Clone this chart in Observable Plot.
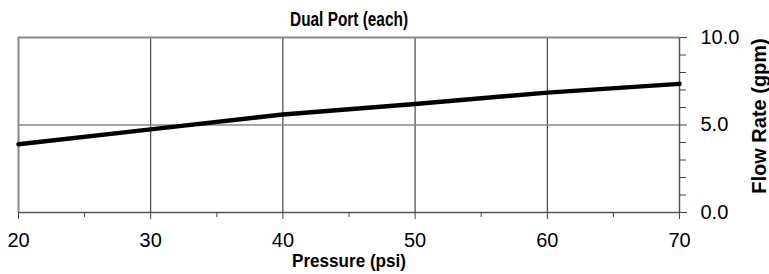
<!DOCTYPE html>
<html>
<head>
<meta charset="utf-8">
<script src="https://cdn.jsdelivr.net/npm/d3@7"></script>
<script src="https://cdn.jsdelivr.net/npm/@observablehq/plot@0.6"></script>
<style>
  html, body { margin: 0; padding: 0; background: #fff; }
  #chart svg { display: block; }
</style>
</head>
<body>
<div id="chart"></div>
<script>
// Data
const pressure = [20, 30, 40, 50, 60, 70];          // psi
const flowRate = [3.9, 4.75, 5.6, 6.2, 6.85, 7.35];  // gpm
const xMajorTicks = [20, 30, 40, 50, 60, 70];
const xMinorTicks = [25, 35, 45, 55, 65];
const yMajorTicks = [0, 5, 10];
const yMinorTicks = [1, 2, 3, 4, 6, 7, 8, 9];
const xGrid = [30, 40, 50, 60];
const yGrid = [5];
const titleText = "Dual Port (each)";
const xLabel = "Pressure (psi)";
const yLabel = "Flow Rate (gpm)";

const data = pressure.map((p, i) => ({pressure: p, flow: flowRate[i]}));

const chart = Plot.plot({
  width: 769,
  height: 274,
  marginLeft: 18,
  marginRight: 90,
  marginTop: 37,
  marginBottom: 62,
  style: {fontFamily: "'Liberation Sans', Arial, sans-serif", background: "#fff", overflow: "visible"},
  x: {domain: [20, 70]},
  y: {domain: [0, 10]},
  marks: [
    // grid
    Plot.ruleX(xGrid, {stroke: "#222", strokeWidth: 1}),
    Plot.ruleY(yGrid, {stroke: "#888", strokeWidth: 1.5}),
    // frame: top & left light grey
    Plot.ruleY([10], {stroke: "#888", strokeWidth: 2}),
    Plot.ruleX([20], {stroke: "#888", strokeWidth: 2}),
    // axes lines
    Plot.ruleY([0], {stroke: "#555", strokeWidth: 1.5}),
    Plot.ruleX([70], {stroke: "#555", strokeWidth: 1.5}),
    // x axis
    Plot.axisX(xMajorTicks, {anchor: "bottom", tickSize: 7, tickPadding: 13, fontSize: 20, stroke: "#444", fill: "#000", tickFormat: d => String(d), label: null}),
    Plot.axisX(xMinorTicks, {anchor: "bottom", tickSize: 5, tickFormat: () => "", stroke: "#444", label: null}),
    // y axis on right
    Plot.axisY(yMajorTicks, {anchor: "right", tickSize: 7, tickPadding: 14, fontSize: 20, stroke: "#444", fill: "#000", tickFormat: d => d.toFixed(1), label: null}),
    Plot.axisY(yMinorTicks, {anchor: "right", tickSize: 6, tickFormat: () => "", stroke: "#444", label: null}),
    // line
    Plot.line(data, {x: "pressure", y: "flow", stroke: "#000", strokeWidth: 4.5}),
    // title and labels
    Plot.text([titleText], {frameAnchor: "top", dy: -18, lineAnchor: "middle", textAnchor: "middle", fontSize: 20, fontWeight: "bold", fill: "#000"}),
    Plot.text([xLabel], {frameAnchor: "bottom", dy: 48, lineAnchor: "middle", textAnchor: "middle", fontSize: 19, fontWeight: "bold", fill: "#000"}),
    Plot.text([yLabel], {frameAnchor: "right", dx: 80, dy: -9, rotate: -90, lineAnchor: "middle", textAnchor: "middle", fontSize: 20, fontWeight: "bold", fill: "#000"})
  ]
});
// narrow the bold title and x label to match the condensed look of the reference
d3.select(chart).selectAll("text").each(function() {
  const t = this.textContent;
  if (t === titleText) { this.setAttribute("textLength", 118); this.setAttribute("lengthAdjust", "spacingAndGlyphs"); }
  if (t === xLabel) { this.setAttribute("textLength", 114); this.setAttribute("lengthAdjust", "spacingAndGlyphs"); }
});
document.getElementById("chart").appendChild(chart);
</script>
</body>
</html>
